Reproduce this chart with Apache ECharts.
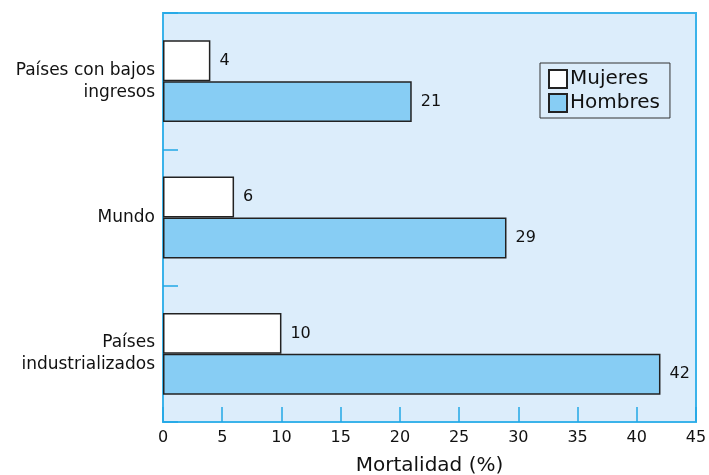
<!DOCTYPE html>
<html>
<head>
<meta charset="utf-8">
<script src="https://cdn.jsdelivr.net/npm/echarts@6/dist/echarts.min.js"></script>
<style>
  html, body { margin: 0; padding: 0; background: #ffffff; }
  #chart { width: 709px; height: 475px; }
</style>
</head>
<body>
<div id="chart"></div>
<script>
// Mortality by sex and income group
const categories = ['Países con bajos\ningresos', 'Mundo', 'Países\nindustrializados'];
const mujeres = [4, 6, 10];
const hombres = [21, 29, 42];
const xTicks = { min: 0, max: 45, interval: 5 };

const FONT = '"DejaVu Sans", "Liberation Sans", Arial, sans-serif';
const EDGE = '#3bb3ea';
const TICK = '#22a8e6';

const chart = echarts.init(document.getElementById('chart'), null, { renderer: 'canvas' });

const barLabel = {
  show: true,
  position: 'right',
  distance: 9,
  color: '#111',
  fontSize: 16,
  fontFamily: FONT
};

chart.setOption({
  animation: false,
  backgroundColor: '#ffffff',
  grid: {
    left: 163, right: 13, top: 13, bottom: 53,
    outerBoundsMode: 'none',
    show: true,
    backgroundColor: '#dcedfb',
    borderColor: EDGE,
    borderWidth: 2
  },
  legend: {
    data: ['Mujeres', 'Hombres'],
    orient: 'vertical',
    left: 540, top: 63,
    padding: [6, 10, 5, 8],
    itemGap: 4,
    itemWidth: 18, itemHeight: 18,
    icon: 'rect',
    borderColor: '#333',
    borderWidth: 1,
    backgroundColor: '#dcedfb',
    textStyle: { fontSize: 20, color: '#111', fontFamily: FONT, padding: [0, 0, 0, -2] }
  },
  xAxis: {
    type: 'value',
    min: xTicks.min, max: xTicks.max, interval: xTicks.interval,
    name: 'Mortalidad (%)',
    nameLocation: 'middle',
    nameGap: 34,
    nameTextStyle: { fontSize: 20, color: '#111', fontFamily: FONT },
    axisLine: { show: true, lineStyle: { color: EDGE, width: 2 } },
    axisTick: { show: true, inside: true, length: 15, lineStyle: { color: TICK, width: 1.5 } },
    axisLabel: { fontSize: 16, color: '#111', fontFamily: FONT, margin: 8 },
    splitLine: { show: false }
  },
  yAxis: {
    type: 'category',
    data: categories,
    inverse: true,
    axisLine: { show: true, lineStyle: { color: EDGE, width: 2 } },
    axisTick: { show: true, inside: true, length: 15, lineStyle: { color: TICK, width: 1.5 } },
    axisLabel: { fontSize: 17, color: '#111', fontFamily: FONT, margin: 8, lineHeight: 22, align: 'right' }
  },
  series: [
    {
      name: 'Mujeres',
      type: 'bar',
      data: mujeres,
      barGap: '0%',
      barCategoryGap: '40%',
      itemStyle: { color: '#ffffff', borderColor: '#222', borderWidth: 1.5 },
      label: barLabel
    },
    {
      name: 'Hombres',
      type: 'bar',
      data: hombres,
      itemStyle: { color: '#87cdf4', borderColor: '#222', borderWidth: 1.5 },
      label: barLabel
    }
  ]
});
</script>
</body>
</html>
